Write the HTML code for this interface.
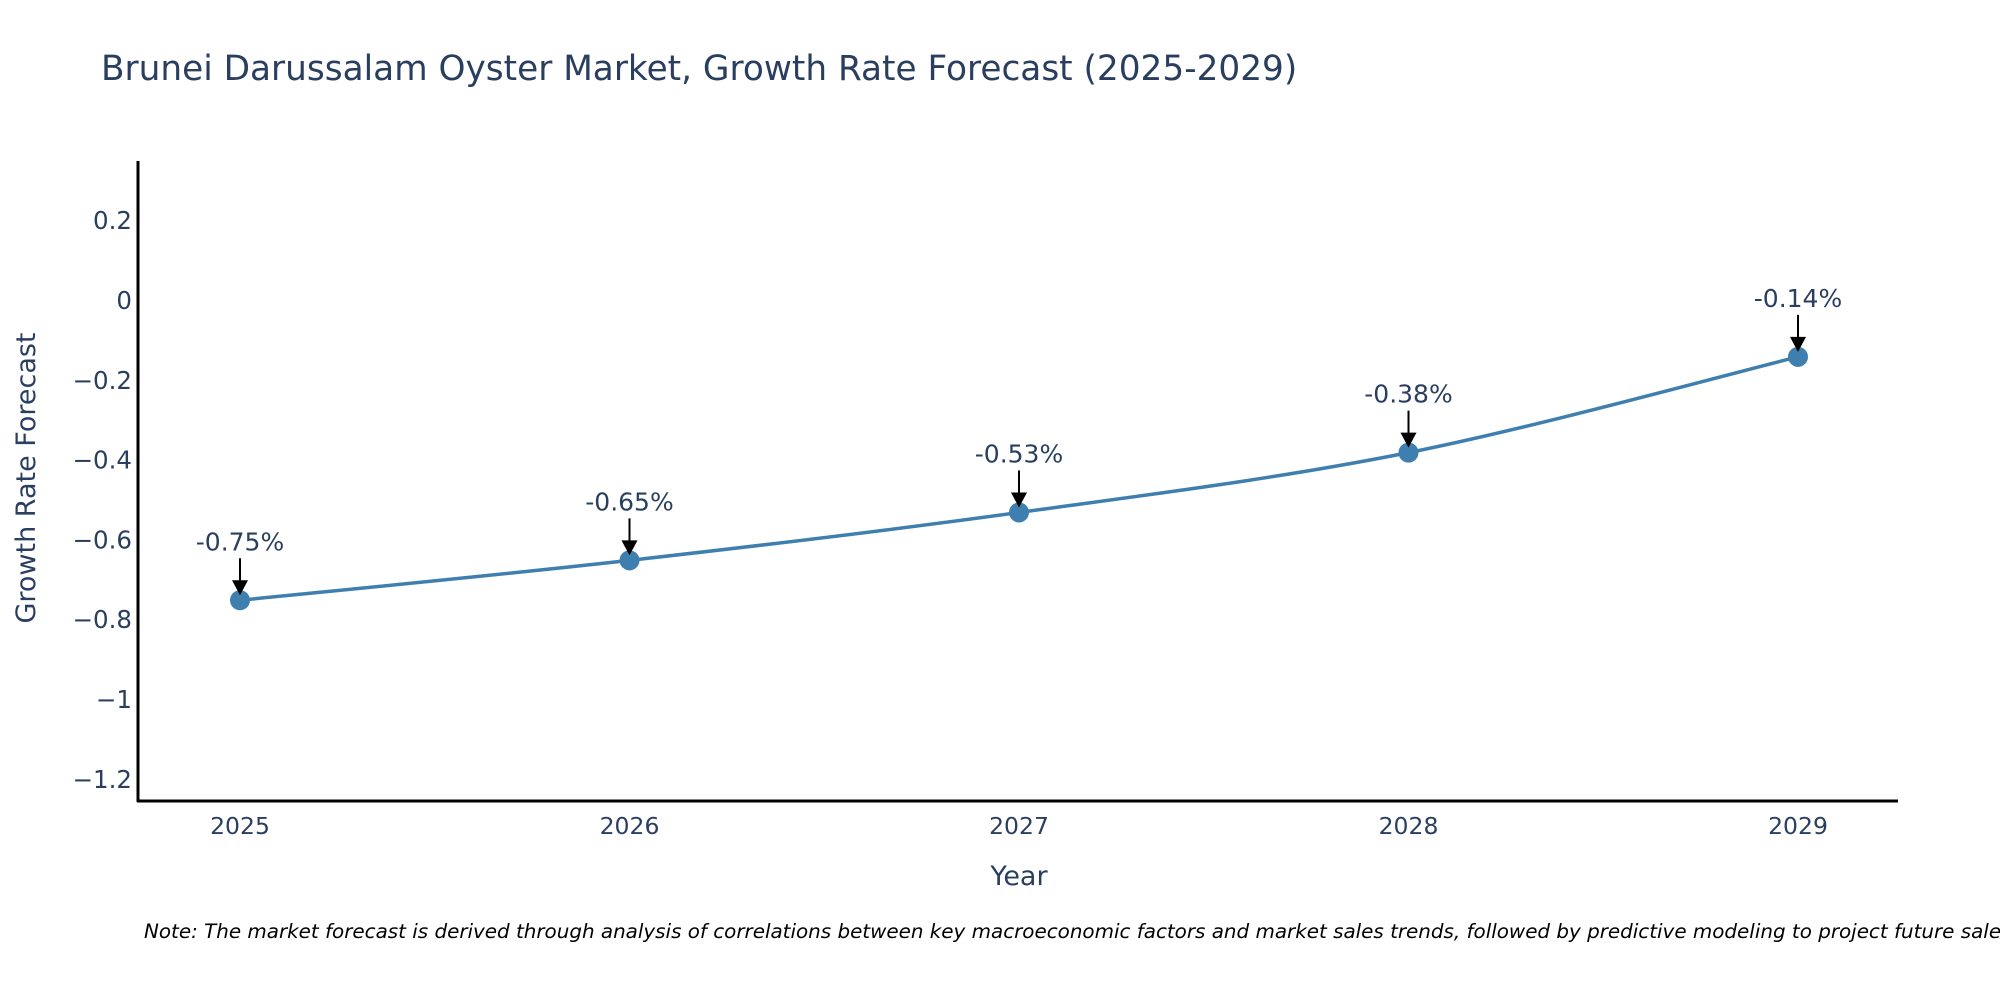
<!DOCTYPE html>
<html><head><meta charset="utf-8"><style>
body{margin:0;background:#fff;}
svg{font-family:"DejaVu Sans","Liberation Sans",sans-serif;}
</style></head><body>
<svg id="chart" width="2000" height="1000">
<text x="101" y="80" font-size="34.3" fill="#2a3f5f">Brunei Darussalam Oyster Market, Growth Rate Forecast (2025-2029)</text>
<g id="yticks"></g>
<g id="xticks"></g>
<line x1="138" y1="161" x2="138" y2="802" stroke="#000" stroke-width="3"/>
<line x1="137" y1="801" x2="1898" y2="801" stroke="#000" stroke-width="3"/>
<path id="line" fill="none" stroke="#3f7fb0" stroke-width="3.5"/>
<g id="marks"></g>
<g id="annots"></g>
<text x="1019" y="885" font-size="27" fill="#2a3f5f" text-anchor="middle">Year</text>
<text transform="translate(35,478) rotate(-90)" font-size="27" fill="#2a3f5f" text-anchor="middle">Growth Rate Forecast</text>
<text x="144" y="938" font-size="19.9" font-style="italic" fill="#000">Note: The market forecast is derived through analysis of correlations between key macroeconomic factors and market sales trends, followed by predictive modeling to project future sales.</text>
</svg>
<script>
const years = [2025, 2026, 2027, 2028, 2029];
const values = [-0.75, -0.65, -0.53, -0.38, -0.14];
const labels = ["-0.75%", "-0.65%", "-0.53%", "-0.38%", "-0.14%"];
const yTicks = [0.2, 0, -0.2, -0.4, -0.6, -0.8, -1, -1.2];
const yTickLabels = ["0.2", "0", "\u22120.2", "\u22120.4", "\u22120.6", "\u22120.8", "\u22121", "\u22121.2"];

const NS = "http://www.w3.org/2000/svg";
function xs(yr){ return 240 + (yr - 2025) * 389.5; }
function ys(v){ return 301 - v * 399; }
function mk(tag, attrs, parent){ const e = document.createElementNS(NS, tag); for (const k in attrs) e.setAttribute(k, attrs[k]); parent.appendChild(e); return e; }

const yg = document.getElementById('yticks');
yTicks.forEach((t, i) => {
  const e = mk('text', {x: 132, y: ys(t) + 8, 'font-size': 24.5, fill: '#2a3f5f', 'text-anchor': 'end'}, yg);
  
  
  e.textContent = yTickLabels[i];
});
const xg = document.getElementById('xticks');
years.forEach(y => {
  const e = mk('text', {x: xs(y), y: 834, 'font-size': 23.5, fill: '#2a3f5f', 'text-anchor': 'middle'}, xg);
  
  
  e.textContent = y;
});

const pts = years.map((y, i) => [xs(y), ys(values[i])]);
let d = 'M' + pts[0][0] + ',' + pts[0][1];
for (let i = 0; i < pts.length - 1; i++) {
  const p0 = pts[Math.max(0, i - 1)], p1 = pts[i], p2 = pts[i + 1], p3 = pts[Math.min(pts.length - 1, i + 2)];
  const t = 1 / 6;
  const c1 = [p1[0] + (p2[0] - p0[0]) * t, p1[1] + (p2[1] - p0[1]) * t];
  const c2 = [p2[0] - (p3[0] - p1[0]) * t, p2[1] - (p3[1] - p1[1]) * t];
  d += ' C' + c1.join(',') + ' ' + c2.join(',') + ' ' + p2.join(',');
}
document.getElementById('line').setAttribute('d', d);

const mg = document.getElementById('marks');
const ag = document.getElementById('annots');
pts.forEach((p, i) => {
  const c = mk('circle', {cx: p[0], cy: p[1], r: 10, fill: '#3f7fb0'}, mg);
  
  
  const l = mk('line', {x1: p[0], y1: p[1] - 42, x2: p[0], y2: p[1] - 18, stroke: '#000', 'stroke-width': 2}, ag);
  
  
  const h = mk('path', {d: `M${p[0]-8},${p[1]-20} L${p[0]+8},${p[1]-20} L${p[0]},${p[1]-5} Z`, fill: '#000'}, ag);
  
  
  const t = mk('text', {x: p[0], y: p[1] - 50, 'font-size': 25, fill: '#2a3f5f', 'text-anchor': 'middle'}, ag);
  
  
  t.textContent = labels[i];
});
</script>
</body></html>
